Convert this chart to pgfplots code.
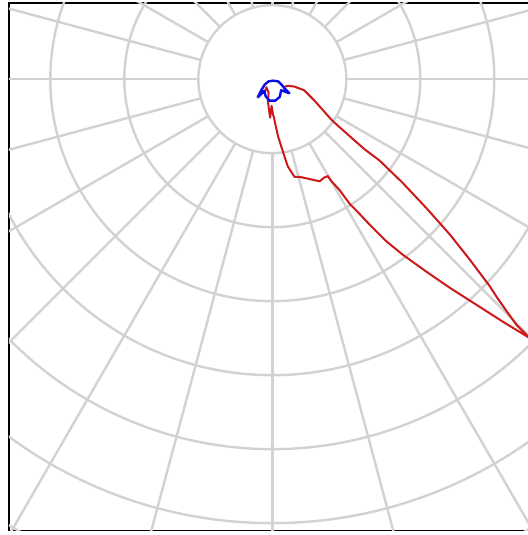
\documentclass[border=0pt]{standalone}
\usepackage{pgfplots}
\pgfplotsset{compat=1.18}
\definecolor{gridgray}{RGB}{210,210,210}
\definecolor{curvered}{RGB}{205,25,25}
\definecolor{curveblue}{RGB}{10,10,235}
\begin{document}
\begin{tikzpicture}
\begin{axis}[
  x=74pt, y=74pt,
  xmin=-3.56, xmax=3.9, ymin=-6.10, ymax=1.03,
  xtick=\empty, ytick=\empty,
  axis line style={black, line width=1.6pt},
  clip=true,
]
% polar grid
\pgfplotsinvokeforeach{1,2,3,4,5,6,7,8,9}{
  \draw[gridgray, line width=2.4pt] (axis cs:0,0) circle [radius=#1];
}
\pgfplotsinvokeforeach{0,15,...,345}{
  \draw[gridgray, line width=2.4pt] (axis cs:{cos(#1)},{sin(#1)}) -- (axis cs:{10*cos(#1)},{10*sin(#1)});
}
% red curve (C0-C180)
\addplot[curvered, line width=2pt, line join=round] coordinates {
(-0.11,-0.20) (-0.08,-0.11) (-0.05,-0.18) (-0.06,-0.30) (-0.03,-0.52)
(-0.01,-0.36) (0.01,-0.48) (0.02,-0.51) (0.05,-0.65) (0.08,-0.78)
(0.15,-1.00) (0.21,-1.18) (0.30,-1.32) (0.37,-1.32) (0.46,-1.34)
(0.55,-1.36) (0.64,-1.38) (0.70,-1.33) (0.75,-1.31) (0.80,-1.38)
(0.91,-1.50) (1.05,-1.69) (1.15,-1.79) (1.31,-1.96) (1.54,-2.19)
(1.76,-2.37) (2.08,-2.60) (2.40,-2.82) (2.76,-3.05) (3.12,-3.28)
(3.48,-3.50)
(3.30,-3.32) (3.17,-3.14) (3.03,-2.94) (2.94,-2.80) (2.67,-2.44)
(2.40,-2.10) (2.08,-1.74) (1.76,-1.40) (1.45,-1.10) (1.25,-0.95)
(1.09,-0.81) (0.81,-0.56) (0.57,-0.29) (0.43,-0.15) (0.30,-0.10)
(0.21,-0.09) (0.14,-0.11)
};
% blue curve (C90-C270)
\addplot[curveblue, line width=2.4pt, line join=round] coordinates {
(-0.20,-0.25) (-0.15,-0.15) (-0.10,-0.07) (-0.05,-0.03) (0.01,-0.02)
(0.08,-0.03) (0.13,-0.08) (0.17,-0.13) (0.23,-0.19) (0.12,-0.15)
(0.10,-0.24) (0.04,-0.29) (-0.04,-0.29) (-0.09,-0.23) (-0.11,-0.16)
(-0.20,-0.25)
};
\coordinate (bbl) at (axis cs:-3.68,-6.16);
\coordinate (btr) at (axis cs:3.45,1.07);
\end{axis}
\pgfresetboundingbox
\useasboundingbox (bbl) rectangle (btr);
\end{tikzpicture}
\end{document}
